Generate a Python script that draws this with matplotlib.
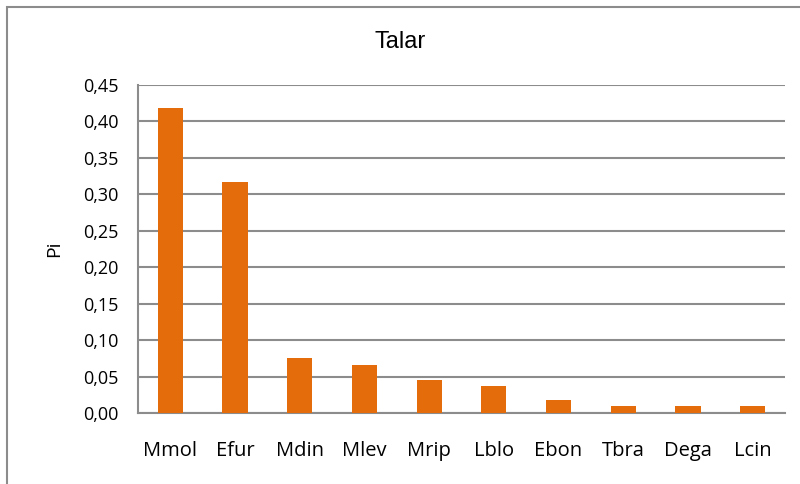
import matplotlib.pyplot as plt
from matplotlib.patches import Rectangle
from matplotlib.ticker import FuncFormatter

# Data
species = ['Mmol', 'Efur', 'Mdin', 'Mlev', 'Mrip', 'Lblo', 'Ebon', 'Tbra', 'Dega', 'Lcin']
pi_values = [0.418, 0.317, 0.076, 0.066, 0.045, 0.037, 0.018, 0.0095, 0.0095, 0.0095]
y_ticks = [0.00, 0.05, 0.10, 0.15, 0.20, 0.25, 0.30, 0.35, 0.40, 0.45]

plt.rcParams['font.family'] = ['Open Sans', 'DejaVu Sans']

fig = plt.figure(figsize=(8, 4.84), dpi=100)
ax = fig.add_axes([138 / 800, 1 - 413 / 484, 647 / 800, 328 / 484])

ax.bar(range(len(species)), pi_values, width=0.39, color='#E46C0A', zorder=3)

ax.set_xlim(-0.5, len(species) - 0.5)
ax.set_ylim(0, 0.45)
ax.set_yticks(y_ticks)
ax.yaxis.set_major_formatter(FuncFormatter(lambda v, p: f'{v:.2f}'.replace('.', ',')))
ax.set_xticks(range(len(species)))
ax.set_xticklabels(species)
ax.tick_params(axis='x', length=0, pad=20, labelsize=14.5)
ax.tick_params(axis='y', length=0, pad=14, labelsize=13)

ax.grid(axis='y', color='#8c8c8c', linewidth=1.5, zorder=0)
for s in ['top', 'right']:
    ax.spines[s].set_visible(False)
for s in ['left', 'bottom']:
    ax.spines[s].set_color('#8c8c8c')
    ax.spines[s].set_linewidth(1.5)

ax.set_ylabel('Pi', fontsize=14, labelpad=14)
fig.text(0.5, 1 - 42 / 484, 'Talar', ha='center', va='center', fontsize=17,
         family=['Liberation Sans Narrow', 'Liberation Sans', 'DejaVu Sans'])

# outer chart frame (cropped at right and bottom)
fig.patches.append(Rectangle((7 / 800, -0.05), 1.0, 1 - 7 / 484 + 0.05,
                             transform=fig.transFigure, fill=False,
                             edgecolor='#8c8c8c', linewidth=1.5))

fig.savefig('out.png', dpi=100)
